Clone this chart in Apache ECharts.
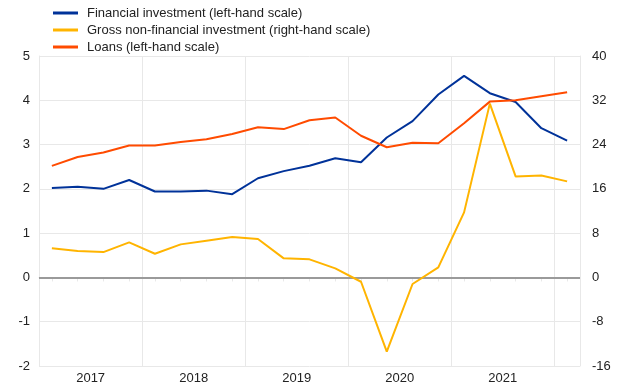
<!DOCTYPE html>
<html>
<head>
<meta charset="utf-8">
<script src="https://cdn.jsdelivr.net/npm/echarts@6/dist/echarts.min.js"></script>
<style>
html,body{margin:0;padding:0;background:#fff;}
#chart{width:620px;height:388px;}
</style>
</head>
<body>
<div id="chart"></div>
<script>
const quarters = ['2017Q1','2017Q2','2017Q3','2017Q4','2018Q1','2018Q2','2018Q3','2018Q4',
  '2019Q1','2019Q2','2019Q3','2019Q4','2020Q1','2020Q2','2020Q3','2020Q4',
  '2021Q1','2021Q2','2021Q3','2021Q4','2022Q1'];
const financialInvestment = [2.02,2.05,2.00,2.20,1.94,1.94,1.96,1.88,2.24,2.40,2.52,2.69,2.60,3.16,3.53,4.13,4.55,4.16,3.96,3.37,3.09];
const grossNonFinancial = [5.25,4.77,4.58,6.33,4.28,5.97,6.63,7.29,6.93,3.45,3.27,1.64,-0.78,-13.4,-1.19,1.82,11.75,31.4,18.25,18.4,17.35];
const loans = [2.52,2.72,2.82,2.98,2.98,3.06,3.12,3.24,3.39,3.35,3.55,3.61,3.20,2.94,3.04,3.03,3.48,3.97,4.00,4.09,4.18];
const seriesNames = ['Financial investment (left-hand scale)','Gross non-financial investment (right-hand scale)','Loans (left-hand scale)'];
const leftTicks = {min:-2,max:5,interval:1};
const rightTicks = {min:-16,max:40,interval:8};

const FONT = "'Liberation Sans', Arial, sans-serif";
const TXT = '#222';
const GRID = '#e8e8e8';

const chart = echarts.init(document.getElementById('chart'), null, {renderer:'canvas'});
chart.setOption({
  animation:false,
  textStyle:{fontFamily:FONT},
  legend:{
    orient:'vertical', left:48, top:1, itemWidth:25, itemHeight:3, itemGap:3, icon:'rect',
    textStyle:{fontFamily:FONT,fontSize:13,color:TXT,lineHeight:14,padding:[0,0,0,4]},
    data:seriesNames
  },
  grid:{left:39,right:40,top:56,bottom:22,containLabel:false},
  xAxis:[{
    type:'category', data:quarters, boundaryGap:true,
    axisLine:{show:true,lineStyle:{color:GRID,width:1}},
    axisTick:{show:true,alignWithLabel:true,interval:0,length:4,lineStyle:{color:GRID}},
    axisLabel:{interval:0,fontFamily:FONT,fontSize:13,color:TXT,margin:6,padding:[0,0,0,26],
      formatter:(v)=> v.endsWith('Q2') ? v.slice(0,4) : ''},
    splitLine:{show:false}
  },{
    type:'category', data:quarters, boundaryGap:true, position:'bottom',
    axisLine:{show:false},
    axisTick:{show:true,interval:(i)=> i%4===0,length:5,lineStyle:{color:GRID}},
    axisLabel:{show:false},
    splitLine:{show:true,interval:(i)=> i%4===0,lineStyle:{color:GRID,width:1}}
  }],
  yAxis:[{
    type:'value', position:'left', min:leftTicks.min, max:leftTicks.max, interval:leftTicks.interval,
    axisLine:{show:true,lineStyle:{color:GRID}}, axisTick:{show:false},
    axisLabel:{fontFamily:FONT,fontSize:13,color:TXT,margin:9},
    splitLine:{show:true,lineStyle:{color:GRID,width:1}}
  },{
    type:'value', position:'right', min:rightTicks.min, max:rightTicks.max, interval:rightTicks.interval,
    axisLine:{show:true,lineStyle:{color:GRID}}, axisTick:{show:false},
    axisLabel:{fontFamily:FONT,fontSize:13,color:TXT,margin:12},
    splitLine:{show:false}
  }],
  series:[{
    name:seriesNames[0], type:'line', yAxisIndex:0, data:financialInvestment,
    symbol:'none', lineStyle:{color:'#003299',width:2}, itemStyle:{color:'#003299'}, z:3,
    markLine:{silent:true,symbol:['none','none'],label:{show:false},
      lineStyle:{color:'#9a9a9a',width:2,type:'solid'},data:[{yAxis:0}],z:1}
  },{
    name:seriesNames[1], type:'line', yAxisIndex:1, data:grossNonFinancial,
    symbol:'none', lineStyle:{color:'#ffb400',width:2}, itemStyle:{color:'#ffb400'}, z:2
  },{
    name:seriesNames[2], type:'line', yAxisIndex:0, data:loans,
    symbol:'none', lineStyle:{color:'#ff4b00',width:2}, itemStyle:{color:'#ff4b00'}, z:4
  }]
});
</script>
</body>
</html>
